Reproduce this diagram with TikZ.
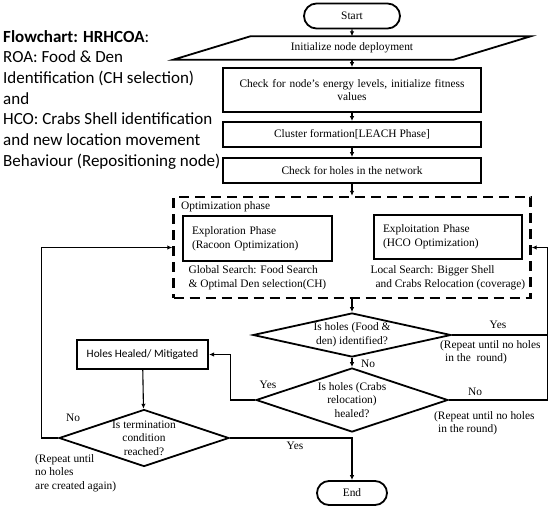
\documentclass[tikz,border=0pt]{standalone}
\usepackage{fontspec}
\setmainfont{Liberation Serif}
\newfontfamily\calib{Carlito}
\usetikzlibrary{positioning,arrows.meta,calc,shapes.geometric,shapes.misc}

\begin{document}
\begin{tikzpicture}[
    x=1pt, y=-1pt,
    every node/.style={font=\fontsize{11.4}{13.6}\selectfont},
    term/.style={rounded rectangle, draw, line width=1.8pt, minimum height=25pt, inner sep=0pt},
    procbox/.style={rectangle, draw, line width=1.8pt, minimum width=258pt, minimum height=25pt, inner sep=2pt, align=center},
    phasebox/.style={rectangle, draw, line width=1.3pt, minimum height=45pt, inner xsep=9pt, align=left},
    optbox/.style={rectangle, draw, dash pattern=on 10pt off 6pt, line width=2.4pt, minimum width=357pt, minimum height=101pt, inner sep=0pt},
    healbox/.style={rectangle, draw, line width=2.2pt, minimum width=131pt, minimum height=29pt, inner sep=0pt, font=\calib\fontsize{11.3}{13}\selectfont},
    decision/.style={diamond, draw, line width=1.8pt, inner sep=0pt},
    dtext/.style={align=center, inner sep=0pt},
    note/.style={align=left, inner sep=0pt},
    flow/.style={->, line width=1.1pt},
    >={Latex[length=5pt,width=4.5pt]}
  ]
    \useasboundingbox (0,0) rectangle (550,507);

    \node[anchor=north west, align=left, inner sep=0pt, font=\calib\fontsize{17}{20.7}\selectfont] (title) at (3,30)
      {\textbf{Flowchart: HRHCOA}:\\ROA: Food \& Den\\Identification (CH selection)\\and\\HCO: Crabs Shell identification\\and new location movement\\Behaviour (Repositioning node)};

    \node[term, minimum width=96pt] (start) at (352,16) {Start};
    \node[minimum width=280pt, minimum height=23pt, inner sep=0pt] (init) at (352,48) {Initialize node deployment};
    \draw[line width=1.8pt] ([xshift=38.5pt]init.north west) -- ([xshift=38.5pt]init.north east)
      -- ([xshift=-38.5pt]init.south east) -- ([xshift=-38.5pt]init.south west) -- cycle;
    \node[procbox, minimum height=44pt, text width=250pt] (check) at (352,90) {Check for node's energy levels, initialize fitness\\values};
    \node[procbox] (cluster) at (352,134.5) {Cluster formation[LEACH Phase]};
    \node[procbox] (holes) at (352,170.5) {Check for holes in the network};

    \node[optbox] (opt) at (352,247.5) {};
    \node[anchor=west, inner sep=0pt] (optlabel) at (181,207) {Optimization phase};
    \node[phasebox, text width=131pt] (explore) at (257.5,238.5) {Exploration Phase\\(Racoon Optimization)};
    \node[phasebox, text width=130pt, minimum height=44pt] (exploit) at (448,237) {Exploitation Phase\\(HCO Optimization)};
    \node[note, below right=4pt and 6pt of explore.south west] (globalsearch) {Global Search: Food Search\\\& Optimal Den selection(CH)};
    \node[note, below right=6pt and -3pt of exploit.south west] (localsearch) {Local Search: Bigger Shell\\\hspace*{5pt}and Crabs Relocation (coverage)};

    \node[decision, minimum width=198pt, minimum height=44pt, label={[dtext]center:{Is holes (Food \&\\den) identified?}}] (d1) at (352,335) {};
    \node[decision, minimum width=192pt, minimum height=64pt, label={[dtext]center:{Is holes (Crabs\\relocation)\\healed?}}] (d2) at (352,400) {};
    \node[healbox] (heal) at (142.5,354.5) {Holes Healed/ Mitigated};
    \node[decision, minimum width=170pt, minimum height=57pt, label={[dtext]center:{Is termination\\condition\\reached?}}] (d3) at (144,438) {};
    \node[term, minimum width=70pt, minimum height=24pt] (finish) at (352,493) {End};

    \coordinate (rloop) at ([xshift=16pt]opt.east);
    \coordinate (lloop) at ([xshift=-130.5pt]opt.west);

    \draw[flow] (start) -- (init);
    \draw[flow] (init) -- (check);
    \draw[flow] (check) -- (cluster);
    \draw[flow] (cluster) -- (holes);
    \draw[flow] (holes) -- (opt);
    \draw[flow] (opt) -- (d1);
    \draw[flow] (d1) -- (d2);
    \draw[flow] (d1.east) -| (rloop) -- (opt.east);
    \draw[line width=1.1pt] (d2.east) -| (rloop);
    \draw[flow] (d2.west) -- ++(-25,0) |- (heal.east);
    \draw[flow] (heal) -- (d3);
    \draw[flow] (d3.west) -| (lloop) -- (opt.west);
    \draw[flow] (d3.east) -| (finish.north);

    \node (yes1) at (498,325) {Yes};
    \node[note, anchor=north west] (rep1) at (440,340) {(Repeat until no holes\\\hspace*{5pt}in the\ \ round)};
    \node (no1) at (368,364) {No};
    \node (no2) at (475,392) {No};
    \node[note, anchor=north west] (rep2) at (434,411) {(Repeat until no holes\\\hspace*{4pt}in the round)};
    \node (yes2) at (268,385) {Yes};
    \node (no3) at (73,418) {No};
    \node[note, anchor=north west] (rep3) at (35,454) {(Repeat until\\no holes\\are created again)};
    \node (yes3) at (295,446) {Yes};
  \end{tikzpicture}
\end{document}
